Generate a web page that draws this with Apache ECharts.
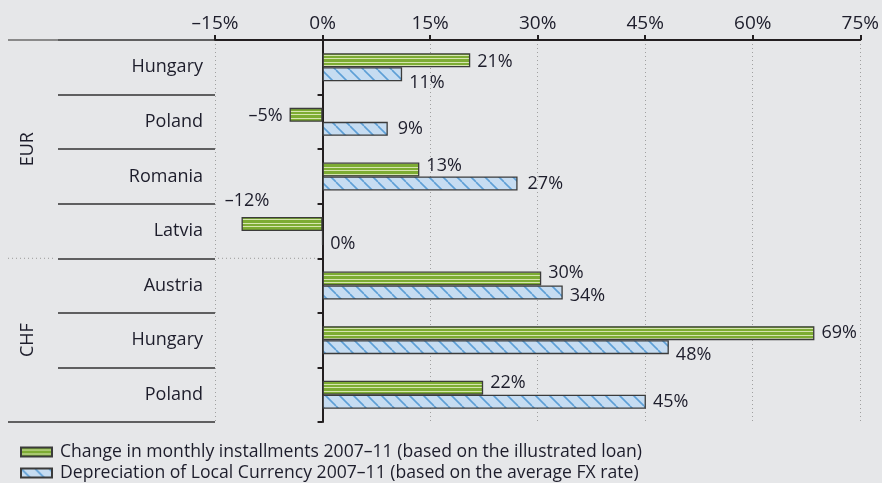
<!DOCTYPE html>
<html><head><meta charset="utf-8">
<script src="https://cdn.jsdelivr.net/npm/echarts@6/dist/echarts.min.js"></script>
<style>html,body{margin:0;padding:0;background:#e6e7e9}#c{width:882px;height:483px}</style>
</head><body><div id="c"></div>
<script>
// ---------- data ----------
const countries = ['Hungary','Poland','Romania','Latvia','Austria','Hungary','Poland'];
const currencies = ['EUR','EUR','EUR','EUR','CHF','CHF','CHF'];
const installmentChange = [20.6, -4.6, 13.5, -11.3, 30.5, 68.6, 22.4];
const depreciation = [11.1, 9.1, 27.2, 0, 33.5, 48.3, 45.1];
const installmentLabels = ['21%','–5%','13%','–12%','30%','69%','22%'];
const depreciationLabels = ['11%','9%','27%','0%','34%','48%','45%'];
const xTicks = [-15, 0, 15, 30, 45, 60, 75];
const groupNames = ['EUR','CHF'];
const seriesNames = [
  'Change in monthly installments 2007–11 (based on the illustrated loan)',
  'Depreciation of Local Currency 2007–11 (based on the average FX rate)'
];

// ---------- styles ----------
const FONT = 'Open Sans';
const TXT = '#1d1d2b';
const AX = '#231f20';
// label placement tweaks per bar (style only)
const greenLabelPos = ['right','left','right','top','right','right','right'];
const greenLabelOff = [[0,2],[0,1],[0,-4],[-35,0],[0,-6],[0,0],[0,-5]];
const blueLabelOff = [[0,9],[3,0],[3,0],[0,6],[0,3],[0,8],[0,0]];

function greenPattern(){
  const c=document.createElement('canvas');c.width=4;c.height=7;
  const g=c.getContext('2d');
  g.fillStyle='#d6e5b0';g.fillRect(0,0,4,7);
  g.fillStyle='#7dac33';g.fillRect(0,0,4,2);g.fillRect(0,3,4,3);
  return c;
}
function bluePattern(){
  const s=14;const c=document.createElement('canvas');c.width=s;c.height=s;
  const g=c.getContext('2d');
  g.fillStyle='#c6dcf1';g.fillRect(0,0,s,s);
  g.strokeStyle='#5d9fd6';g.lineWidth=1.6;
  for(const k of [-s,0,s]){g.beginPath();g.moveTo(k,0);g.lineTo(k+s,s);g.stroke();}
  return c;
}
const greenFill={image:greenPattern(),repeat:'repeat'};
const blueFill={image:bluePattern(),repeat:'repeat'};

const axisKeys = countries.map((c,i)=>currencies[i]+'|'+c+'|'+i);
const fmtPct = v => (v<0 ? '–'+(-v) : String(v)) + '%';

const chart = echarts.init(document.getElementById('c'), null, {renderer:'canvas'});
const labelBase = {show:true, fontFamily:FONT, fontSize:18, color:TXT, distance:7};

chart.setOption({
  backgroundColor:'#e6e7e9',
  animation:false,
  textStyle:{fontFamily:FONT},
  grid:{left:215, right:21, top:40, bottom:61, containLabel:false},
  xAxis:{
    type:'value', position:'top', min:xTicks[0], max:xTicks[xTicks.length-1], interval:15,
    axisLine:{show:true,onZero:false,lineStyle:{color:AX,width:2}},
    axisTick:{show:true,length:5,lineStyle:{color:AX,width:2}},
    axisLabel:{margin:7,fontSize:19,color:TXT,fontFamily:FONT,formatter:fmtPct},
    splitLine:{show:true,lineStyle:{type:[1,3],color:'#a0a0a0',width:1}}
  },
  yAxis:[
    {type:'category', inverse:true, data:axisKeys, position:'left',
     axisLine:{show:false,onZero:false},
     axisTick:{show:true,length:157,lineStyle:{color:'#333',width:1.5}},
     axisLabel:{margin:12,fontSize:18,color:TXT,fontFamily:FONT,formatter:(v)=>v.split('|')[1]},
     splitLine:{show:false}},
    {type:'category', inverse:true, data:axisKeys, position:'right',
     axisLine:{show:true,onZero:true,lineStyle:{color:AX,width:2}},
     axisTick:{show:true,inside:true,length:5,lineStyle:{color:AX,width:2}},
     axisLabel:{show:false}, splitLine:{show:false}}
  ],
  legend:{
    orient:'vertical', left:20, top:443, height:80, padding:0, itemGap:3,
    itemWidth:31, itemHeight:9, icon:'rect', selectedMode:false,
    textStyle:{fontFamily:FONT,fontSize:17.6,color:TXT,lineHeight:16,padding:[0,0,0,3]},
    data:seriesNames
  },
  series:[
    {type:'bar', name:seriesNames[0], yAxisIndex:0, barWidth:14, barGap:'0%',
     itemStyle:{color:greenFill, borderColor:'#3b3b3b', borderWidth:1.3},
     data:installmentChange.map((v,i)=>({value:v,
       label:Object.assign({},labelBase,{position:greenLabelPos[i],offset:greenLabelOff[i],formatter:installmentLabels[i]})}))},
    {type:'bar', name:seriesNames[1], yAxisIndex:0, barWidth:14, barGap:'0%',
     itemStyle:{color:blueFill, borderColor:'#3b3b3b', borderWidth:1.3},
     data:depreciation.map((v,i)=>({value:v,
       label:Object.assign({},labelBase,{position:'right',offset:blueLabelOff[i],formatter:depreciationLabels[i]})}))}
  ]
});

// decorations derived from axis scales
const c0 = chart.convertToPixel({yAxisIndex:0}, axisKeys[0]);
const c1 = chart.convertToPixel({yAxisIndex:0}, axisKeys[1]);
const band = c1 - c0;
const bnd = i => c0 - band/2 + i*band;
const xMin = chart.convertToPixel({xAxisIndex:0}, xTicks[0]);
const xZero = chart.convertToPixel({xAxisIndex:0}, 0);
const nEur = currencies.filter(c=>c===groupNames[0]).length;
const nAll = currencies.length;
const topY = bnd(0), botY = bnd(nAll), midY = bnd(nEur);
const graphics = [
  {type:'line',shape:{x1:8,y1:topY,x2:58,y2:topY},style:{stroke:'#8a8a8a',lineWidth:2}},
  {type:'line',shape:{x1:8,y1:botY,x2:58,y2:botY},style:{stroke:'#333',lineWidth:1.5}},
  {type:'line',shape:{x1:8,y1:midY,x2:56,y2:midY},style:{stroke:'#999',lineWidth:1,lineDash:[1,3]}},
  {type:'line',shape:{x1:xMin+3,y1:midY,x2:xZero-4,y2:midY},style:{stroke:'#999',lineWidth:1,lineDash:[1,3]}},
  {type:'text',x:28,y:(bnd(0)+bnd(nEur))/2,rotation:Math.PI/2,
   style:{text:groupNames[0],fontFamily:FONT,fontSize:18,fill:TXT,align:'center',verticalAlign:'middle'}},
  {type:'text',x:28,y:(bnd(nEur)+bnd(nAll))/2,rotation:Math.PI/2,
   style:{text:groupNames[1],fontFamily:FONT,fontSize:18,fill:TXT,align:'center',verticalAlign:'middle'}}
];
chart.setOption({graphic:graphics});
</script>
</body></html>
